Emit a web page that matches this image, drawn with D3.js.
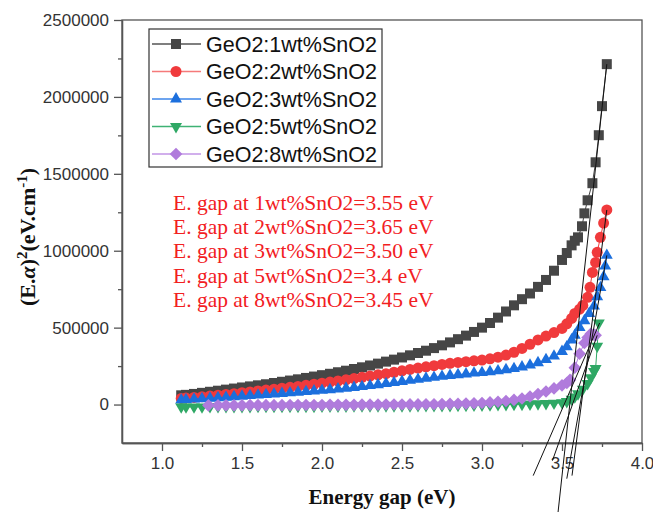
<!DOCTYPE html>
<html>
<head>
<meta charset="utf-8">
<title>Tauc plot GeO2:SnO2</title>
<script src="https://d3js.org/d3.v7.min.js"></script>
<style>
	body{ margin:0; background:#fff; }
	svg{ display:block; background:#fff; }
	.axis path, .axis line{ stroke:#555; stroke-width:1.3px; }
	.axis text{ fill:#333; font-family:"Liberation Sans", Arial, sans-serif; font-size:17px; }
	.legend text{ fill:#111; font-family:"Liberation Sans", Arial, sans-serif; font-size:21.5px; }
	.note{ fill:#f2201f; font-family:"Liberation Serif", "Times New Roman", serif; font-size:21.5px; }
	.axisTitle{ fill:#111; font-family:"Liberation Serif", "Times New Roman", serif; font-weight:bold; font-size:21px; }
</style>
</head>
<body>
<div id="chart"></div>
<script>
var denseEnergy = [1.20,1.25,1.30,1.35,1.40,1.45,1.50,1.55,1.60,1.65,1.70,1.75,1.80,1.85,1.90,1.95,2.00,2.05,2.10,2.15,2.20,2.25,2.30,2.35,2.40,2.45,2.50,2.55,2.60,2.65,2.70,2.75,2.80,2.85,2.90,2.95,3.00,3.05,3.10,3.15,3.20,3.25,3.30,3.35,3.40,3.45,3.50];

// GeO2:1wt%SnO2
var energy1 = [1.12,1.15].concat(denseEnergy, [3.53,3.56,3.58,3.60,3.625,3.64,3.66,3.69,3.71,3.73,3.75,3.78]);
var alpha1 = [60000,63000,69000,76000,83000,90000,97000,104000,111000,118000,125000,132000,140000,148000,156000,164000,173000,182000,191000,200000,210000,220000,231000,242000,254000,266000,279000,292000,306000,320000,335000,350000,367000,385000,404000,425000,448000,472000,500000,530000,565000,605000,645000,685000,722000,765000,810000,870000,940000,
	985000,1035000,1065000,1087000,1159000,1243000,1328000,1439000,1575000,1751000,1940000,2213000];

// GeO2:2wt%SnO2
var energy2 = [1.12,1.15].concat(denseEnergy, [3.53,3.56,3.58,3.61,3.63,3.66,3.675,3.69,3.71,3.72,3.74,3.76,3.78]);
var alpha2 = [40000,42000,46000,51000,56000,61000,66000,71000,77000,82000,88000,94000,100000,106000,112000,118000,125000,132000,139000,146000,153000,161000,169000,177000,185000,193000,201000,210000,219000,228000,237000,245000,253000,261000,268000,274000,279000,284000,289000,297000,308000,322000,340000,365000,392000,420000,445000,468000,495000,
	525000,560000,592000,620000,644000,697000,762000,859000,924000,990000,1087000,1180000,1265000];

// GeO2:3wt%SnO2
var energy3 = [1.12,1.15].concat(denseEnergy, [3.53,3.56,3.58,3.61,3.64,3.67,3.70,3.72,3.74,3.76,3.77,3.78]);
var alpha3 = [30000,32000,35000,38000,41000,44000,47000,51000,54000,58000,61000,65000,69000,72000,76000,80000,84000,88000,92000,96000,101000,106000,111000,117000,123000,129000,136000,143000,150000,157000,164000,171000,177000,183000,189000,194000,199000,204000,208000,213000,219000,226000,234000,244000,256000,272000,292000,315000,345000,
	375000,420000,450000,500000,545000,592000,640000,700000,760000,830000,900000,970000];

// GeO2:5wt%SnO2
var energy5 = [1.12,1.15].concat(denseEnergy, [3.53,3.56,3.58,3.60,3.63,3.66,3.68,3.70,3.71,3.72,3.73]);
var alpha5 = [-15000,-15000,-15000,-15000,-14000,-14000,-14000,-13000,-13000,-13000,-12000,-12000,-12000,-12000,-11000,-11000,-11000,-11000,-10000,-10000,-10000,-10000,-9000,-9000,-9000,-9000,-8000,-8000,-8000,-8000,-7000,-7000,-7000,-6000,-6000,-5000,-5000,-4000,-3000,-2000,-1000,0,1000,2000,3000,5000,7000,9000,12000,
	20000,35000,50000,70000,100000,137000,175000,215000,234000,380000,530000];

// GeO2:8wt%SnO2
var energy8 = [1.29].concat(denseEnergy.slice(3), [3.53,3.55,3.58,3.61,3.64,3.66,3.68,3.70,3.71]);
var alpha8 = [-5000,-5000,-5000,-5000,-5000,-4000,-4000,-4000,-4000,-4000,-3000,-3000,-3000,-3000,-3000,-2000,-2000,-2000,-2000,-1000,-1000,-1000,0,0,0,1000,1000,2000,2000,3000,4000,5000,6000,8000,10000,14000,18000,23000,30000,39000,52000,68000,85000,105000,125000,
	140000,160000,240000,330000,400000,436000,460000,455000,450000];

var seriesNames = ['GeO2:1wt%SnO2','GeO2:2wt%SnO2','GeO2:3wt%SnO2','GeO2:5wt%SnO2','GeO2:8wt%SnO2'];
var gapNotes = ['E. gap at 1wt%SnO2=3.55 eV','E. gap at 2wt%SnO2=3.65 eV','E. gap at 3wt%SnO2=3.50 eV','E. gap at 5wt%SnO2=3.4 eV','E. gap at 8wt%SnO2=3.45 eV'];

// extrapolation lines (start / end points, eV and (E.a)^2)
var fitStartE = [3.78, 3.78, 3.78, 3.735, 3.72];
var fitStartA = [2213000, 1265000, 970000, 530000, 450000];
var fitEndE = [3.475, 3.5625, 3.53, 3.32, 3.44];
var fitEndA = [-703000, -462000, -482000, -462000, -365000];

var xTicks = [1.0, 1.5, 2.0, 2.5, 3.0, 3.5, 4.0];
var xMinor = [1.25, 1.75, 2.25, 2.75, 3.25, 3.75];
var yTicks = [0, 500000, 1000000, 1500000, 2000000, 2500000];
var yMinor = [250000, 750000, 1250000, 1750000, 2250000];

var width = 653, height = 512;
var plotLeft = 122, plotRight = 642, plotTop = 20, plotBottom = 443;

var svg = d3.select('#chart').append('svg')
	.attr('width', width)
	.attr('height', height);

var xScale = d3.scaleLinear().domain([0.75, 4.0]).range([plotLeft, plotRight]);
var yScale = d3.scaleLinear().domain([-250000, 2500000]).range([plotBottom, plotTop]);

var colors = ['#464646', '#f03a3c', '#1c6fdd', '#2fa865', '#b07bdc'];
var lineColors = ['#555', '#f57a7a', '#3d86ea', '#3fb274', '#c294e6'];
var shapes = [d3.symbolSquare, d3.symbolCircle, d3.symbolTriangle, d3.symbolTriangle, d3.symbolSquare];
var sizes = [100, 95, 62, 62, 80];
var turns = [0, 0, 0, 180, 45];

var energies = [energy1, energy2, energy3, energy5, energy8];
var alphas = [alpha1, alpha2, alpha3, alpha5, alpha8];

// frame
svg.append('rect')
	.attr('x', plotLeft).attr('y', plotTop)
	.attr('width', plotRight - plotLeft).attr('height', plotBottom - plotTop)
	.attr('fill', 'none')
	.attr('stroke', '#555')
	.attr('stroke-width', 1.3);

// axes
svg.append('g').attr('class', 'axis')
	.attr('transform', 'translate(0,' + plotBottom + ')')
	.call(d3.axisBottom(xScale).tickValues(xMinor).tickSize(4).tickFormat('').tickSizeOuter(0));
svg.append('g').attr('class', 'axis')
	.attr('transform', 'translate(0,' + plotBottom + ')')
	.call(d3.axisBottom(xScale).tickValues(xTicks).tickSize(8).tickPadding(6).tickFormat(d3.format('.1f')).tickSizeOuter(0));
svg.append('g').attr('class', 'axis')
	.attr('transform', 'translate(' + plotLeft + ',0)')
	.call(d3.axisLeft(yScale).tickValues(yMinor).tickSize(4).tickFormat('').tickSizeOuter(0));
svg.append('g').attr('class', 'axis')
	.attr('transform', 'translate(' + plotLeft + ',0)')
	.call(d3.axisLeft(yScale).tickValues(yTicks).tickSize(8).tickPadding(5).tickFormat(d3.format('d')).tickSizeOuter(0));

// series, later ones on top
var line = d3.line()
	.x(function(d){ return xScale(d[0]); })
	.y(function(d){ return yScale(d[1]); });

seriesNames.forEach(function(name, i){
	var pts = d3.zip(energies[i], alphas[i]);
	var g = svg.append('g').attr('class', 'series');
	g.append('path')
		.attr('d', line(pts))
		.attr('fill', 'none')
		.attr('stroke', colors[i])
		.attr('stroke-width', 1);
	g.selectAll('path.dot')
		.data(pts)
		.enter()
		.append('path')
		.attr('class', 'dot')
		.attr('d', d3.symbol().type(shapes[i]).size(sizes[i]))
		.attr('transform', function(d){
			return 'translate(' + xScale(d[0]) + ',' + yScale(d[1]) + ') rotate(' + turns[i] + ')';
		})
		.attr('fill', colors[i]);
});

// extrapolation lines, not clipped (they run below the axis)
fitStartE.forEach(function(e, i){
	svg.append('line')
		.attr('x1', xScale(e)).attr('y1', yScale(fitStartA[i]))
		.attr('x2', xScale(fitEndE[i])).attr('y2', yScale(fitEndA[i]))
		.attr('stroke', '#111')
		.attr('stroke-width', 1);
});

// legend
var legend = svg.append('g').attr('class', 'legend');
legend.append('rect')
	.attr('x', 149).attr('y', 29)
	.attr('width', 233).attr('height', 138)
	.attr('fill', '#fff')
	.attr('stroke', '#333')
	.attr('stroke-width', 1.2);
seriesNames.forEach(function(name, i){
	var ly = 44 + i * 27.5;
	legend.append('line')
		.attr('x1', 152).attr('x2', 201)
		.attr('y1', ly).attr('y2', ly)
		.attr('stroke', lineColors[i])
		.attr('stroke-width', 1.3);
	legend.append('path')
		.attr('d', d3.symbol().type(shapes[i]).size(sizes[i]))
		.attr('transform', 'translate(176,' + ly + ') rotate(' + turns[i] + ')')
		.attr('fill', colors[i]);
	legend.append('text')
		.attr('x', 206).attr('y', ly)
		.attr('dy', '0.36em')
		.text(name);
});

// band gap notes
gapNotes.forEach(function(t, i){
	svg.append('text')
		.attr('class', 'note')
		.attr('x', 173)
		.attr('y', 210 + i * 24.2)
		.text(t);
});

// axis titles
svg.append('text')
	.attr('class', 'axisTitle')
	.attr('x', (plotLeft + plotRight) / 2)
	.attr('y', 504)
	.attr('text-anchor', 'middle')
	.text('Energy gap (eV)');

var yt = svg.append('text')
	.attr('class', 'axisTitle')
	.attr('text-anchor', 'middle')
	.style('font-size', '22px')
	.attr('transform', 'translate(35,237) rotate(-90)');
yt.append('tspan').text('(E.');
yt.append('tspan').style('font-style', 'italic').text('α');
yt.append('tspan').text(')');
yt.append('tspan').attr('dy', -8).style('font-size', '15px').text('2');
yt.append('tspan').attr('dy', 8).text('(eV.cm');
yt.append('tspan').attr('dy', -8).style('font-size', '15px').text('-1');
yt.append('tspan').attr('dy', 8).text(')');
</script>
</body>
</html>
